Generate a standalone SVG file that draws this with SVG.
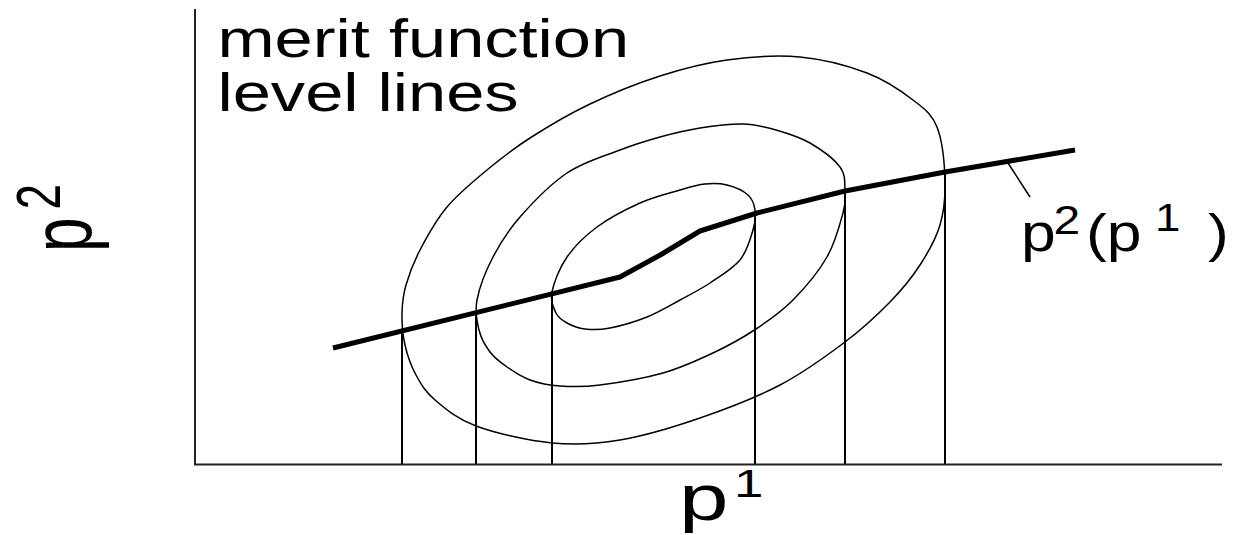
<svg xmlns="http://www.w3.org/2000/svg" width="1240" height="535" viewBox="0 0 1240 535">
<style>
.axis{stroke:#222;stroke-width:2;fill:none}
.lvl{stroke:#000;stroke-width:1.5;fill:none}
.drop{stroke:#000;stroke-width:2;fill:none}
.curve{stroke:#000;stroke-width:5;fill:none;stroke-linejoin:round;stroke-linecap:butt}
.lead{stroke:#000;stroke-width:1.5;fill:none}
text{font-family:"Liberation Sans",Arial,sans-serif;fill:#000}
</style>
<rect width="1240" height="535" fill="#fff"/>
<g id="axes">
<line class="axis" x1="195" y1="9" x2="195" y2="465"/>
<line class="axis" x1="194" y1="464.5" x2="1222" y2="464.5"/>
</g>
<g id="level-lines">
<path id="level-outer" class="lvl" d="M402,313 C401.8,323 402.7,334.7 405,345 C407.3,355.3 411,365.8 416,375 C421,384.2 425,391.5 435,400 C445,408.5 456.5,418.8 476,426 C495.5,433.2 528,440.7 552,443 C576,445.3 595.3,444.2 620,440 C644.7,435.8 673.3,427.2 700,418 C726.7,408.8 755.8,397.7 780,385 C804.2,372.3 826.7,355.8 845,342 C863.3,328.2 877.5,314.8 890,302 C902.5,289.2 911.7,277.8 920,265 C928.3,252.2 935.8,239.2 940,225 C944.2,210.8 945.5,196.3 945,180 C944.5,163.7 942.3,140.3 937,127 C931.7,113.7 924.7,109 913,100 C901.3,91 885.8,80.2 867,73 C848.2,65.8 823.3,59.2 800,57 C776.7,54.8 750.3,56.8 727,60 C703.7,63.2 682.8,68.7 660,76 C637.2,83.3 611.7,93.7 590,104 C568.3,114.3 547.2,127 530,138 C512.8,149 500.8,158.5 487,170 C473.2,181.5 458.2,193.7 447,207 C435.8,220.3 426.8,237 420,250 C413.2,263 409,274.5 406,285 C403,295.5 402.2,303 402,313 Z"/>
<path id="level-middle" class="lvl" d="M477,300 C474.7,312.2 476.8,321.3 479,330 C481.2,338.7 485.3,345.8 490,352 C494.7,358.2 500.3,362.3 507,367 C513.7,371.7 521.2,376.8 530,380 C538.8,383.2 548.3,385.2 560,386 C571.7,386.8 582.8,387.2 600,385 C617.2,382.8 644.2,378.3 663,373 C681.8,367.7 697.5,360.3 713,353 C728.5,345.7 742.7,337.8 756,329 C769.3,320.2 781.2,312 793,300 C804.8,288 818.7,271.5 827,257 C835.3,242.5 840,224.2 843,213 C846,201.8 845.5,197.7 845,190 C844.5,182.3 845.8,174.8 840,167 C834.2,159.2 820.7,149.2 810,143 C799.3,136.8 787.2,133.2 776,130 C764.8,126.8 755.7,124.3 743,124 C730.3,123.7 713.8,125.8 700,128 C686.2,130.2 673.3,133.3 660,137 C646.7,140.7 635.5,144 620,150 C604.5,156 583.7,161.8 567,173 C550.3,184.2 532.3,203 520,217 C507.7,231 500.2,243.2 493,257 C485.8,270.8 479.3,287.8 477,300 Z"/>
<path id="level-inner" class="lvl" d="M552,292 C550.2,301.3 553.5,307.8 556,313 C558.5,318.2 562.2,320.3 567,323 C571.8,325.7 577.8,328.2 585,329 C592.2,329.8 599.7,330 610,328 C620.3,326 635.3,321.7 647,317 C658.7,312.3 669.5,305.7 680,300 C690.5,294.3 700,289.7 710,283 C720,276.3 732.8,268.8 740,260 C747.2,251.2 750.5,238.3 753,230 C755.5,221.7 755.8,215.8 755,210 C754.2,204.2 752.7,199.2 748,195 C743.3,190.8 734.2,186.8 727,185 C719.8,183.2 712.8,183.2 705,184 C697.2,184.8 690.8,186.8 680,190 C669.2,193.2 653.8,196.8 640,203 C626.2,209.2 609.2,218 597,227 C584.8,236 574.5,246.2 567,257 C559.5,267.8 553.8,282.7 552,292 Z"/>
</g>
<g id="connectors">
<line class="drop" x1="402" y1="330" x2="402" y2="464"/>
<line class="drop" x1="476" y1="312" x2="476" y2="464"/>
<line class="drop" x1="552" y1="294" x2="552" y2="464"/>
<line class="drop" x1="755" y1="213" x2="755" y2="464"/>
<line class="drop" x1="845" y1="191" x2="845" y2="464"/>
<line class="drop" x1="945" y1="172" x2="945" y2="464"/>
<line class="lead" x1="1008" y1="163" x2="1030" y2="197"/>
</g>
<g id="curve-p2-of-p1">
<path class="curve" d="M333,348 L620,277 L662,254 L700,231 L757,213 L845,191 L945,172 L1075,150"/>
</g>
<g id="labels">
<g id="label-title">
<text transform="matrix(1.27 0 0 1 217.5 0)" font-size="54"><tspan x="0" y="57">merit function</tspan><tspan x="0" y="111">level lines</tspan></text>
</g>
<g id="label-curve">
<text transform="matrix(1.2 0 0 1 1021 0)" font-size="52"><tspan x="0" y="251">p</tspan><tspan x="27" y="234" font-size="40">2</tspan><tspan x="54.2" y="251">(p</tspan><tspan x="111.7" y="231" font-size="38">1</tspan><tspan x="155.8" y="251">)</tspan></text>
</g>
<g id="label-y">
<text transform="translate(91,252) rotate(-90) scale(1,1.36)" font-size="62"><tspan x="0" y="0">p</tspan><tspan x="42.5" y="-22.8" font-size="46">2</tspan></text>
</g>
<g id="label-x">
<text transform="matrix(1.39 0 0 1 679 0)" font-size="64"><tspan x="0" y="520">p</tspan><tspan x="39.6" y="497" font-size="38">1</tspan></text>
</g>
</g>
</svg>
